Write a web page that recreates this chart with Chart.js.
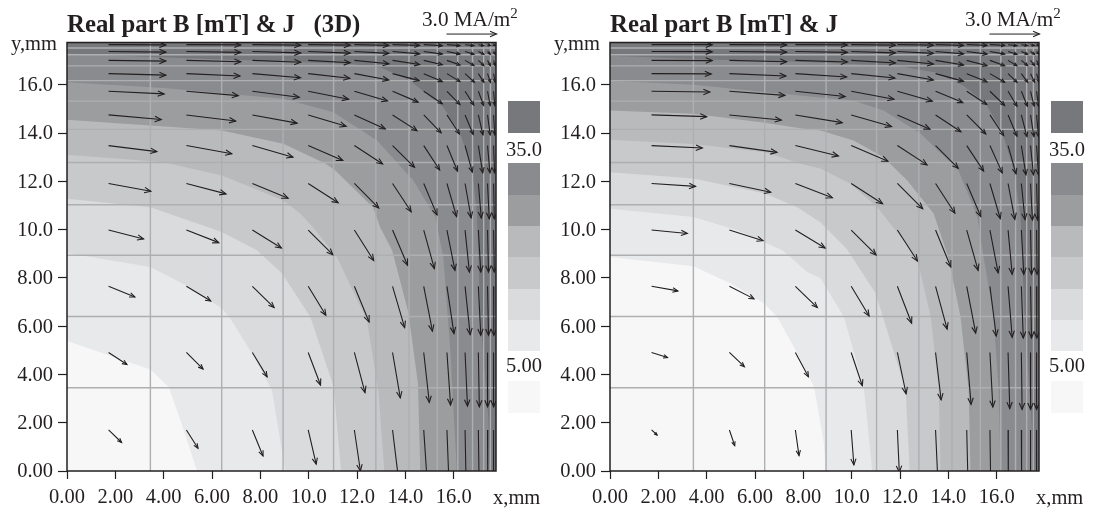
<!DOCTYPE html>
<html>
<head>
<meta charset="utf-8">
<title>Real part B [mT] &amp; J</title>
<script src="https://cdn.jsdelivr.net/npm/chart.js@4/dist/chart.umd.min.js"></script>
<style>
  html, body { margin: 0; padding: 0; background: #fff; }
  #page { position: relative; width: 1093px; height: 510px; overflow: hidden; font-family: "Liberation Serif", serif; color: #231f20; }
  canvas { position: absolute; top: 0; }
  .txt { position: absolute; white-space: pre; font-size: 20.5px; line-height: 1; }
  .ttl { font-weight: bold; font-size: 24.8px; }
  .scl { font-size: 21.2px; }
  .txt sup { font-size: 15px; line-height: 0; vertical-align: 8px; }
  .swatch { position: absolute; width: 32px; }
</style>
</head>
<body>
<div id="page">
  <canvas id="plotLeft" width="543" height="510" style="left:0"></canvas>
  <canvas id="plotRight" width="543" height="510" style="left:543px"></canvas>
</div>
<script>
// ── Axis labels ──────────────────────────────
const xTickLabels = ['0.00', '2.00', '4.00', '6.00', '8.00', '10.0', '12.0', '14.0', '16.0'];
const yTickLabels = ['0.00', '2.00', '4.00', '6.00', '8.00', '10.0', '12.0', '14.0', '16.0'];
const axisMax = 17.75;

// mesh lines [mm], same on both axes
const meshLines = [3.45, 6.4, 8.94, 11.03, 12.78, 14.15, 15.32, 16.17, 16.78, 17.24, 17.52];

// band colours, >35 first, <5 last
const bandColors = ['#77787b', '#8a8b8e', '#9c9d9f', '#b9babc', '#c8c9cb', '#dadbdd', '#e8e9eb', '#f7f7f8'];

// ── Contours, left panel (x, y in mm) ────────
const leftContour35 = [[0,17.29],[4.14,17.13],[7.71,17.0],[11.72,16.86],[12.96,16.72],[14.2,16.17],[15.57,15.07],[16.27,13.98],[16.76,12.45],[16.96,10.67],[17.1,6.41],[17.43,2.27],[17.51,0]];
const leftContour30 = [[0,16.1],[4.0,15.87],[8.95,15.42],[11.02,14.86],[12.83,13.69],[14.33,12.03],[15.24,10.52],[15.57,8.85],[15.86,5.0],[16.13,0]];
const leftContour25 = [[0,14.55],[6.41,14.1],[8.95,13.56],[10.69,12.74],[11.1,12.45],[12.67,10.92],[12.96,10.09],[13.45,9.14],[14.12,6.59],[14.52,3.64],[14.62,0]];
const leftContour20 = [[0,13.1],[4.0,12.79],[6.41,12.24],[8.96,11.2],[9.65,10.67],[10.19,10.09],[11.17,8.85],[12.41,6.24],[12.88,3.35],[13.13,0]];
const leftContour15 = [[0,11.28],[3.45,10.93],[6.41,9.9],[7.86,9.14],[8.9,8.18],[10.07,6.38],[11.03,3.49],[11.34,0]];
const leftContour10 = [[0,9.03],[3.45,8.45],[5.1,7.6],[6.41,6.73],[6.76,6.31],[7.7,4.8],[8.48,3.35],[9.03,0]];
const leftContour5 = [[0,5.39],[3.45,4.2],[4.2,3.49],[4.69,2.11],[5.38,0]];

// ── Contours, right panel ────────────────────
const rightContour35 = [[0,17.2],[4.0,17.05],[7.7,16.95],[11.89,16.79],[13.47,16.51],[14.63,15.96],[15.54,15.22],[16.23,14.03],[16.7,12.45],[16.99,10.52],[17.15,6.4],[17.43,2.3],[17.53,0]];
const rightContour30 = [[0,16.17],[3.45,16.0],[6.37,15.7],[10.08,15.34],[11.32,14.93],[12.85,13.98],[14.42,12.45],[15.2,10.52],[15.46,8.85],[15.87,6.41],[16.08,3.35],[16.16,0]];
const rightContour25 = [[0,14.93],[3.45,14.8],[6.4,14.43],[8.0,14.18],[8.71,14.1],[10.08,13.69],[11.32,13.0],[12.3,12.03],[13.39,10.67],[14.0,8.85],[14.5,6.41],[14.84,3.35],[14.92,0]];
const rightContour20 = [[0,13.72],[3.45,13.55],[6.41,13.2],[8.0,12.7],[8.71,12.53],[9.95,11.9],[11.06,10.93],[12.36,9.28],[12.72,8.73],[13.27,6.41],[13.6,3.35],[13.68,0]];
const rightContour15 = [[0,12.38],[3.45,12.12],[6.41,11.5],[7.75,10.93],[8.7,10.3],[9.8,9.2],[10.99,7.36],[12.23,3.35],[12.4,0]];
const rightContour10 = [[0,10.86],[3.45,10.52],[5.27,9.97],[7.13,9.14],[8.16,8.24],[8.71,7.98],[9.68,6.38],[10.5,3.49],[10.85,0]];
const rightContour5 = [[0,8.86],[3.45,8.48],[4.99,7.77],[6.37,6.95],[6.92,6.38],[7.68,5.0],[8.44,3.49],[8.85,1.15],[8.92,0]];

// ── Arrows: tail positions [mm] ──────────────
const arrowCols = [1.72, 4.94, 7.67, 9.98, 11.89, 13.47, 14.76, 15.72, 16.47, 17.02, 17.4, 17.65];
const arrowRows = [1.7, 4.91, 7.65, 9.98, 11.91, 13.48, 14.75, 15.73, 16.46, 17.01, 17.38, 17.66];

// vector components per row (bottom row first)
const leftU = [
  [.54,.48,.44,.33,.25,.25,.14,.08,.04,.03,.01,0],
  [.76,.69,.61,.51,.44,.32,.23,.15,.10,.04,0,0],
  [1.09,1.01,.90,.73,.61,.50,.36,.29,.21,.10,.04,.01],
  [1.45,1.34,1.2,1.02,.80,.62,.44,.33,.18,.10,.04,.03],
  [1.75,1.64,1.48,1.24,1.01,.77,.55,.40,.25,.12,.07,.03],
  [2.0,1.88,1.68,1.43,1.17,.91,.66,.44,.30,.18,.10,.04],
  [2.18,2.04,1.85,1.57,1.28,1.01,.72,.52,.34,.19,.11,.05],
  [2.3,2.15,1.94,1.67,1.37,1.06,.77,.54,.36,.22,.11,.05],
  [2.37,2.22,1.99,1.72,1.42,1.10,.77,.54,.39,.23,.12,.07],
  [2.37,2.25,2.0,1.74,1.43,1.12,.77,.54,.37,.23,.12,.07],
  [2.37,2.25,2.0,1.74,1.43,1.12,.77,.54,.37,.23,.12,.07],
  [2.37,2.25,2.0,1.74,1.43,1.12,.77,.54,.37,.23,.12,.07]
];
const leftV = [
  [-.52,-.76,-1.08,-1.42,-1.7,-2.07,-2.1,-2.1,-2.1,-2.1,-2.1,-2.1],
  [-.5,-.69,-1.01,-1.35,-1.66,-1.88,-2.07,-2.18,-2.22,-2.25,-2.25,-2.25],
  [-.44,-.61,-.88,-1.2,-1.48,-1.71,-1.86,-1.96,-2.0,-2.03,-2.03,-2.03],
  [-.37,-.52,-.74,-1.02,-1.26,-1.46,-1.6,-1.67,-1.74,-1.74,-1.74,-1.74],
  [-.32,-.43,-.61,-.8,-1.02,-1.17,-1.3,-1.37,-1.42,-1.43,-1.46,-1.46],
  [-.25,-.34,-.48,-.62,-.76,-.9,-1.01,-1.06,-1.1,-1.13,-1.13,-1.13],
  [-.19,-.25,-.34,-.47,-.58,-.65,-.74,-.79,-.81,-.83,-.83,-.83],
  [-.11,-.18,-.25,-.33,-.4,-.45,-.52,-.55,-.57,-.59,-.59,-.59],
  [-.06,-.1,-.17,-.19,-.26,-.29,-.33,-.33,-.36,-.36,-.36,-.36],
  [-.03,-.06,-.08,-.1,-.14,-.17,-.18,-.19,-.21,-.22,-.22,-.22],
  [-.03,-.04,-.06,-.07,-.08,-.1,-.11,-.11,-.12,-.12,-.12,-.12],
  [-.01,-.01,-.02,-.02,-.03,-.03,-.04,-.04,-.04,-.04,-.04,-.04]
];
const rightU = [
  [.23,.22,.15,.11,.08,.09,.05,.03,.01,.01,0,0],
  [.66,.62,.54,.46,.36,.23,.18,.12,.07,.03,0,0],
  [1.09,1.02,.91,.74,.59,.48,.37,.26,.17,.08,.04,.01],
  [1.48,1.39,1.23,1.03,.83,.63,.47,.34,.17,.10,.04,.02],
  [1.82,1.71,1.53,1.3,1.05,.8,.58,.43,.28,.15,.08,.04],
  [2.1,1.97,1.78,1.52,1.23,.94,.7,.51,.33,.19,.12,.08],
  [2.28,2.15,1.94,1.67,1.35,1.05,.79,.57,.37,.23,.14,.08],
  [2.41,2.3,2.06,1.77,1.45,1.13,.83,.61,.37,.25,.15,.08],
  [2.47,2.34,2.12,1.81,1.49,1.16,.84,.61,.37,.26,.17,.10],
  [2.51,2.37,2.15,1.83,1.49,1.16,.84,.61,.37,.26,.17,.10],
  [2.51,2.37,2.15,1.83,1.49,1.16,.84,.61,.37,.26,.17,.10],
  [2.51,2.37,2.15,1.83,1.49,1.16,.84,.61,.37,.26,.17,.10]
];
const rightV = [
  [-.21,-.65,-1.06,-1.45,-1.75,-2.0,-2.1,-2.15,-2.15,-2.15,-2.15,-2.15],
  [-.21,-.59,-1.01,-1.38,-1.71,-1.96,-2.15,-2.26,-2.32,-2.36,-2.36,-2.36],
  [-.19,-.52,-.88,-1.23,-1.53,-1.77,-1.94,-2.06,-2.11,-2.14,-2.14,-2.14],
  [-.14,-.44,-.74,-1.03,-1.28,-1.53,-1.67,-1.77,-1.83,-1.83,-1.83,-1.83],
  [-.12,-.36,-.59,-.84,-1.05,-1.23,-1.37,-1.46,-1.49,-1.5,-1.52,-1.52],
  [-.1,-.28,-.43,-.65,-.8,-.94,-1.06,-1.13,-1.17,-1.21,-1.21,-1.21],
  [-.07,-.21,-.32,-.48,-.59,-.7,-.79,-.86,-.88,-.9,-.9,-.9],
  [-.03,-.17,-.22,-.33,-.41,-.47,-.55,-.59,-.62,-.62,-.62,-.62],
  [-.01,-.1,-.14,-.18,-.26,-.32,-.34,-.36,-.36,-.36,-.36,-.36],
  [-.01,-.06,-.07,-.11,-.15,-.19,-.22,-.22,-.22,-.22,-.22,-.22],
  [-.01,-.03,-.04,-.06,-.08,-.1,-.11,-.11,-.12,-.12,-.12,-.12],
  [0,-.01,-.01,-.02,-.02,-.03,-.03,-.03,-.04,-.04,-.04,-.04]
];

// scale arrow above each plot, 3.0 MA/m2
const scaleArrowTail = [15.7, 18.1];
const scaleArrowLength = 2.07;

// ── Helpers ──────────────────────────────────
const toPoints = list => list.map(p => ({ x: p[0], y: p[1] }));
const gap = { x: NaN, y: NaN };

function meshData() {
  const pts = [];
  meshLines.forEach(v => {
    pts.push({ x: v, y: 0 }, { x: v, y: axisMax }, gap);
    pts.push({ x: 0, y: v }, { x: axisMax, y: v }, gap);
  });
  return pts;
}

function arrowData(u, v) {
  const pts = [];
  arrowRows.forEach((y, r) => {
    arrowCols.forEach((x, c) => {
      pts.push({ x: x, y: y }, { x: x + u[r][c], y: y + v[r][c] }, gap);
    });
  });
  return pts;
}

// arrow heads go on top of the shafts, the shafts themselves are datasets
const arrowHeads = {
  id: 'arrowHeads',
  afterDatasetsDraw(chart) {
    const ctx = chart.ctx, a = chart.chartArea;
    const sx = chart.scales.x, sy = chart.scales.y;
    chart.data.datasets.forEach(ds => {
      if (!ds.isArrow) return;
      ctx.save();
      if (ds.clip !== false) {
        ctx.beginPath();
        ctx.rect(a.left, a.top, a.right - a.left, a.bottom - a.top);
        ctx.clip();
      }
      ctx.strokeStyle = '#231f20';
      ctx.lineWidth = 1.1;
      for (let i = 0; i + 1 < ds.data.length; i += 3) {
        const x0 = sx.getPixelForValue(ds.data[i].x), y0 = sy.getPixelForValue(ds.data[i].y);
        const x1 = sx.getPixelForValue(ds.data[i + 1].x), y1 = sy.getPixelForValue(ds.data[i + 1].y);
        const len = Math.hypot(x1 - x0, y1 - y0);
        const ang = Math.atan2(y1 - y0, x1 - x0);
        const h = Math.min(7, 2.5 + 0.12 * len);
        ctx.beginPath();
        ctx.moveTo(x1 - h * Math.cos(ang - 0.4), y1 - h * Math.sin(ang - 0.4));
        ctx.lineTo(x1, y1);
        ctx.lineTo(x1 - h * Math.cos(ang + 0.4), y1 - h * Math.sin(ang + 0.4));
        ctx.stroke();
      }
      ctx.restore();
    });
    // box around the plot
    ctx.save();
    ctx.strokeStyle = '#231f20';
    ctx.lineWidth = 1.5;
    ctx.strokeRect(a.left, a.top, a.right - a.left, a.bottom - a.top);
    ctx.restore();
  }
};

function makePanel(canvasId, contours, u, v) {
  const datasets = [];
  // dataset 0 is drawn last, so arrows first and bands darkest last
  datasets.push({
    data: arrowData(u, v), isArrow: true, showLine: true, pointRadius: 0,
    borderColor: '#231f20', borderWidth: 1.1, spanGaps: false
  });
  datasets.push({
    data: [{ x: scaleArrowTail[0], y: scaleArrowTail[1] }, { x: scaleArrowTail[0] + scaleArrowLength, y: scaleArrowTail[1] }],
    isArrow: true, clip: false, showLine: true, pointRadius: 0, borderColor: '#231f20', borderWidth: 1
  });
  datasets.push({
    data: meshData(), showLine: true, pointRadius: 0,
    borderColor: '#aeafb1', borderWidth: 1.4, spanGaps: false
  });
  contours.forEach((c, i) => {
    datasets.push({
      data: toPoints(c), showLine: true, pointRadius: 0, borderWidth: 0,
      borderColor: 'transparent', backgroundColor: bandColors[7 - i], fill: 'origin'
    });
  });
  datasets.push({
    data: [{ x: 0, y: axisMax }, { x: axisMax, y: axisMax }], showLine: true, pointRadius: 0, borderWidth: 0,
    borderColor: 'transparent', backgroundColor: bandColors[0], fill: 'origin'
  });

  const tickFont = { family: '"Liberation Serif", serif', size: 20.5 };
  return new Chart(document.getElementById(canvasId), {
    type: 'scatter',
    data: { datasets: datasets },
    plugins: [arrowHeads],
    options: {
      responsive: false,
      animation: false,
      layout: { padding: { left: 0, right: 47, top: 42.5, bottom: 0 } },
      plugins: { legend: { display: false }, tooltip: { enabled: false }, title: { display: false } },
      scales: {
        x: {
          type: 'linear', min: 0, max: axisMax,
          afterFit(scale) { scale.height = 39; },
          border: { display: false },
          grid: { drawOnChartArea: false, drawTicks: true, tickLength: 8, tickColor: '#231f20', tickWidth: 1.2 },
          ticks: {
            stepSize: 2, includeBounds: false, autoSkip: false, maxRotation: 0, padding: 6,
            color: '#231f20', font: tickFont,
            callback: (val, i) => xTickLabels[i]
          }
        },
        y: {
          type: 'linear', min: 0, max: axisMax,
          afterFit(scale) { scale.width = 67; },
          border: { display: false },
          grid: { drawOnChartArea: false, drawTicks: true, tickLength: 9, tickColor: '#231f20', tickWidth: 1.2 },
          ticks: {
            stepSize: 2, includeBounds: false, autoSkip: false, padding: 5, labelOffset: 1,
            color: '#231f20', font: tickFont,
            callback: (val, i) => yTickLabels[i]
          }
        }
      }
    }
  });
}

// ── Text and colour key ──────────────────────
const page = document.getElementById('page');

function addText(html, left, top, cls) {
  const el = document.createElement('span');
  el.className = 'txt' + (cls ? ' ' + cls : '');
  el.innerHTML = html;
  el.style.left = left + 'px';
  el.style.top = top + 'px';
  page.appendChild(el);
}

function addKey(off) {
  const tops = [101, 163, 195, 226, 257, 289, 320, 381];
  const heights = [32, 32, 31, 31, 32, 31, 31, 32];
  bandColors.forEach((c, i) => {
    const sw = document.createElement('div');
    sw.className = 'swatch';
    sw.style.left = (508 + off) + 'px';
    sw.style.top = tops[i] + 'px';
    sw.style.height = heights[i] + 'px';
    sw.style.background = c;
    page.appendChild(sw);
  });
  addText('35.0', 506 + off, 139);
  addText('5.00', 506 + off, 355);
  addText('y,mm', 11 + off, 33);
  addText('x,mm', 493 + off, 487);
  addText('3.0 MA/m<sup>2</sup>', 422 + off, 9, 'scl');
}

addText('Real part B [mT] &amp; J   (3D)', 67, 12, 'ttl');
addText('Real part B [mT] &amp; J', 610, 12, 'ttl');
addKey(0);
addKey(543);

makePanel('plotLeft',
  [leftContour5, leftContour10, leftContour15, leftContour20, leftContour25, leftContour30, leftContour35],
  leftU, leftV);
makePanel('plotRight',
  [rightContour5, rightContour10, rightContour15, rightContour20, rightContour25, rightContour30, rightContour35],
  rightU, rightV);
</script>
</body>
</html>
